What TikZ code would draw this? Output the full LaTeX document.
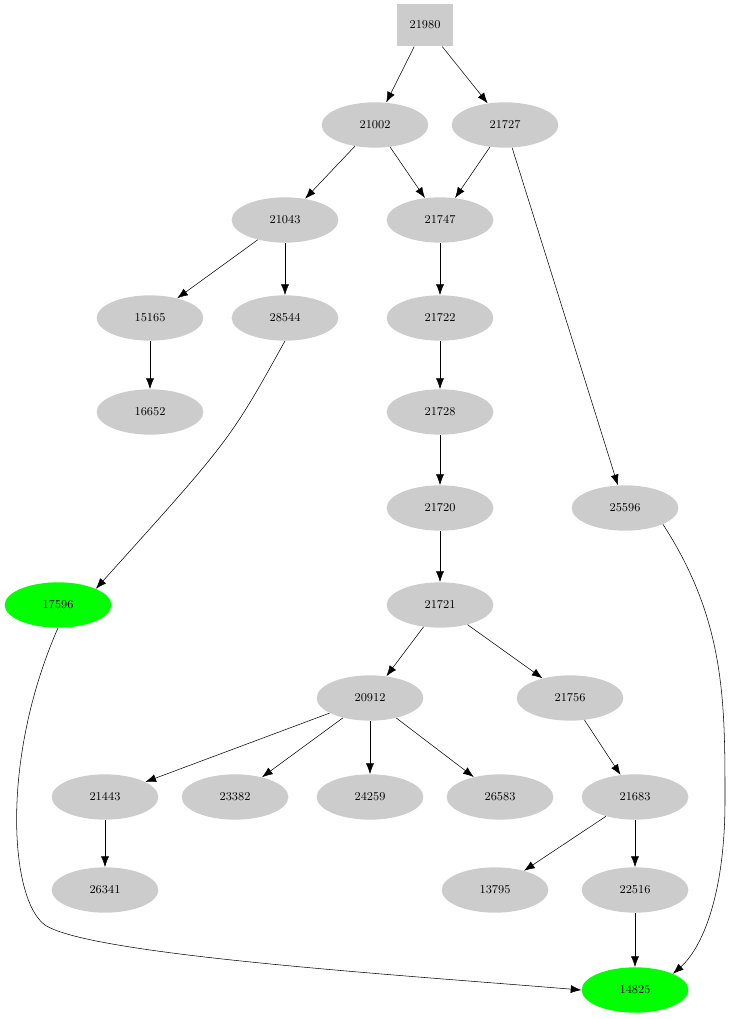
\documentclass[tikz,border=0pt]{standalone}
\usetikzlibrary{shapes.geometric,arrows.meta}
\tikzset{
  vert/.style={ellipse,fill=lightgray!80,minimum width=80pt,minimum height=34pt,inner sep=0pt,font=\small},
  goal/.style={vert,fill=green},
  root/.style={rectangle,fill=lightgray!80,minimum width=42pt,minimum height=32pt,font=\small},
  edge/.style={-{Latex[length=8pt,width=6pt]}}
}
\begin{document}
\begin{tikzpicture}[x=0.75pt,y=-0.75pt]
	\useasboundingbox (0,0) rectangle (731,1019);

	\node (n21980)[root] at (425,25) {21980};
	\node (n21002)[vert] at (375,125) {21002};
	\node (n21727)[vert] at (505,125) {21727};
	\node (n21043)[vert] at (285,220) {21043};
	\node (n21747)[vert] at (440,220) {21747};
	\node (n15165)[vert] at (150,318) {15165};
	\node (n28544)[vert] at (285,318) {28544};
	\node (n21722)[vert] at (440,318) {21722};
	\node (n16652)[vert] at (150,412) {16652};
	\node (n21728)[vert] at (440,412) {21728};
	\node (n21720)[vert] at (440,508) {21720};
	\node (n25596)[vert] at (625,508) {25596};
	\node (n17596)[goal] at (58,605) {17596};
	\node (n21721)[vert] at (440,605) {21721};
	\node (n20912)[vert] at (370,698) {20912};
	\node (n21756)[vert] at (570,698) {21756};
	\node (n21443)[vert] at (105,797) {21443};
	\node (n23382)[vert] at (235,797) {23382};
	\node (n24259)[vert] at (370,797) {24259};
	\node (n26583)[vert] at (500,797) {26583};
	\node (n21683)[vert] at (635,797) {21683};
	\node (n26341)[vert] at (105,890) {26341};
	\node (n13795)[vert] at (495,890) {13795};
	\node (n22516)[vert] at (635,890) {22516};
	\node (n14825)[goal] at (635,990) {14825};

	\draw [edge] (n21980) to (n21002);
	\draw [edge] (n21980) to (n21727);
	\draw [edge] (n21002) to (n21043);
	\draw [edge] (n21002) to (n21747);
	\draw [edge] (n21727) to (n21747);
	\draw [edge] (n21727) to (n25596);
	\draw [edge] (n21043) to (n15165);
	\draw [edge] (n21043) to (n28544);
	\draw [edge] (n15165) to (n16652);
	\draw [edge] (n28544.south) .. controls (230,440) .. (n17596.north east);
	\draw [edge] (n21747) to (n21722);
	\draw [edge] (n21722) to (n21728);
	\draw [edge] (n21728) to (n21720);
	\draw [edge] (n21720) to (n21721);
	\draw [edge] (n21721) to (n20912);
	\draw [edge] (n21721) to (n21756);
	\draw [edge] (n20912) to (n21443);
	\draw [edge] (n20912) to (n23382);
	\draw [edge] (n20912) to (n24259);
	\draw [edge] (n20912) to (n26583);
	\draw [edge] (n21756) to (n21683);
	\draw [edge] (n21683) to (n13795);
	\draw [edge] (n21683) to (n22516);
	\draw [edge] (n21443) to (n26341);
	\draw [edge] (n22516) to (n14825);
	\draw [edge] (n25596.south east) .. controls (725,620) and (725,700) .. (725,800) .. controls (725,900) and (700,950) .. (n14825.north east);
	\draw [edge] (n17596.south) .. controls (0,760) and (10,900) .. (45,925) .. controls (90,955) and (400,975) .. (n14825.west);

\end{tikzpicture}
\end{document}
